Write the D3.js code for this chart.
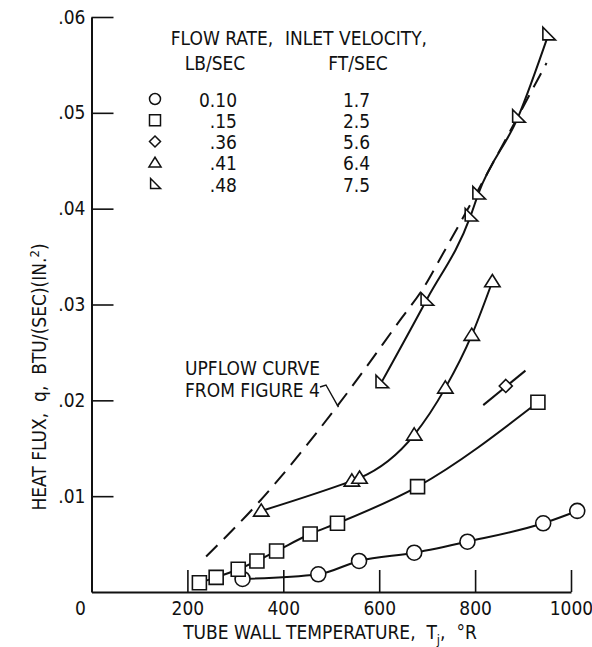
<!DOCTYPE html>
<html>
<head>
<meta charset="utf-8">
<script src="https://cdn.jsdelivr.net/npm/d3@7"></script>
<style>
  body { margin: 0; background: #fff; }
  svg text { font-family: "Liberation Sans Narrow", "DejaVu Sans Condensed", "Arial Narrow", sans-serif; fill: #111; white-space: pre; }
</style>
</head>
<body>
<div id="chart"></div>
<script>
// Heat flux vs tube wall temperature

// [T (deg R), q (BTU/sec in^2)]
const circleData = [[315, 0.00136], [473, 0.00185], [558, 0.00324], [673, 0.0041], [784, 0.00525], [942, 0.00717], [1013, 0.00846]];
const squareData = [[225, 0.00097], [260, 0.00153], [306, 0.00237], [345, 0.00324], [386, 0.00428], [456, 0.00605], [513, 0.00717], [680, 0.0110], [931, 0.0198]];
const diamondData = [[864, 0.0215]];
const diamondLine = [[817, 0.0195], [905, 0.0231]];
const triangleData = [[354, 0.00846], [543, 0.0116], [559, 0.0119], [673, 0.0164], [738, 0.0213], [793, 0.0268], [836, 0.0324]];
const rightTriData = [[605, 0.0219], [699, 0.0305], [791, 0.0393], [807, 0.0416], [890, 0.0496], [953, 0.0582]];
const upflowCurve = [[239, 0.0037], [344, 0.0091], [511, 0.0193], [647, 0.0286], [692, 0.0317], [734, 0.0354], [949, 0.0552]];

const xTicks = [200, 400, 600, 800, 1000];
const yTicks = [0.01, 0.02, 0.03, 0.04, 0.05, 0.06];

const legendShapes = ["circle", "square", "diamond", "triangle", "righttri"];
const legendFlow = ["0.10", ".15", ".36", ".41", ".48"];
const legendVel = ["1.7", "2.5", "5.6", "6.4", "7.5"];

const width = 592, height = 647;

const svg = d3.select("#chart")
  .append("svg")
  .attr("width", width)
  .attr("height", height);

const x = d3.scaleLinear().domain([0, 1000]).range([91.5, 571]);
const y = d3.scaleLinear().domain([0, 0.06]).range([592, 17]);

const FS = 19;

// marker paths centred on 0,0
function shapePath(type, s) {
  const h = s / 2;
  if (type === "circle") return d3.arc()({ innerRadius: 0, outerRadius: h, startAngle: 0, endAngle: 2 * Math.PI });
  if (type === "square") return `M${-h},${-h}H${h}V${h}H${-h}Z`;
  if (type === "diamond") return `M0,${-h}L${h},0L0,${h}L${-h},0Z`;
  if (type === "triangle") return `M0,${-h * 1.0}L${h * 1.1},${h * 0.75}L${-h * 1.1},${h * 0.75}Z`;
  return `M${-h * 0.8},${-h}L${-h * 0.8},${h * 0.8}L${h * 1.0},${h * 0.8}Z`;
}

// axes
const yAxis = svg.append("g")
  .attr("transform", `translate(${x(0)},0)`)
  .call(d3.axisLeft(y).tickValues(yTicks).tickSize(-22).tickSizeOuter(0).tickPadding(6)
    .tickFormat(d => d3.format(".2f")(d).replace("0.", ".")));

const xAxis = svg.append("g")
  .attr("transform", `translate(0,${y(0)})`)
  .call(d3.axisBottom(x).tickValues(xTicks).tickSize(-22).tickSizeOuter(0).tickPadding(10)
    .tickFormat(d3.format("d")));

[xAxis, yAxis].forEach(g => {
  g.select(".domain").attr("stroke", "#111").attr("stroke-width", 2);
  g.selectAll(".tick line").attr("stroke", "#111").attr("stroke-width", 1.6);
  g.selectAll(".tick text").attr("font-size", FS).attr("font-family", null).attr("fill", "#111");
});

svg.append("text")
  .attr("x", x(0) - 11)
  .attr("y", y(0) + 10)
  .attr("dy", "0.71em")
  .attr("text-anchor", "middle")
  .attr("font-size", FS)
  .text("0");

// axis titles
const xt = svg.append("text")
  .attr("x", 330)
  .attr("y", 639)
  .attr("text-anchor", "middle")
  .attr("font-size", FS);
xt.append("tspan").text("TUBE WALL TEMPERATURE,  T");
xt.append("tspan").attr("font-size", 13).attr("dy", 5).text("j");
xt.append("tspan").attr("dy", -5).text(",  °R");

const yt = svg.append("text")
  .attr("transform", "translate(46,377) rotate(-90)")
  .attr("text-anchor", "middle")
  .attr("font-size", FS);
yt.append("tspan").text("HEAT FLUX,  q,  BTU/(SEC)(IN.");
yt.append("tspan").attr("font-size", 13).attr("dy", -7).text("2");
yt.append("tspan").attr("dy", 7).text(")");

// curves
const smooth = d3.line()
  .x(d => x(d[0]))
  .y(d => y(d[1]))
  .curve(d3.curveMonotoneX);

const plot = svg.append("g");

plot.append("path")
  .datum(upflowCurve)
  .attr("d", smooth)
  .attr("fill", "none")
  .attr("stroke", "#111")
  .attr("stroke-width", 2)
  .attr("stroke-dasharray", "16,9");

[circleData, squareData, diamondLine, triangleData, rightTriData].forEach(s => {
  plot.append("path")
    .datum(s)
    .attr("d", smooth)
    .attr("fill", "none")
    .attr("stroke", "#111")
    .attr("stroke-width", 2);
});

// markers
const series = [
  { data: circleData, type: "circle", size: 15 },
  { data: squareData, type: "square", size: 14 },
  { data: diamondData, type: "diamond", size: 13 },
  { data: triangleData, type: "triangle", size: 14 },
  { data: rightTriData, type: "righttri", size: 14 }
];

series.forEach(s => {
  plot.selectAll(null)
    .data(s.data)
    .enter().append("path")
    .attr("transform", d => `translate(${x(d[0])},${y(d[1])})`)
    .attr("d", shapePath(s.type, s.size))
    .attr("fill", "#fff")
    .attr("stroke", "#111")
    .attr("stroke-width", 1.6);
});

// upflow annotation
svg.append("text").attr("x", 185).attr("y", 375).attr("font-size", FS).text("UPFLOW CURVE");
svg.append("text").attr("x", 185).attr("y", 397).attr("font-size", FS).text("FROM FIGURE 4");
svg.append("path")
  .attr("d", d3.line()([[320, 387], [326, 385], [x(515), y(0.0193)]]))
  .attr("fill", "none")
  .attr("stroke", "#111")
  .attr("stroke-width", 1.4);

// legend
const lg = svg.append("g");
lg.append("text").attr("x", 222).attr("y", 45).attr("text-anchor", "middle").attr("font-size", FS).text("FLOW RATE,");
lg.append("text").attr("x", 215).attr("y", 70).attr("text-anchor", "middle").attr("font-size", FS).text("LB/SEC");
lg.append("text").attr("x", 356).attr("y", 45).attr("text-anchor", "middle").attr("font-size", FS).text("INLET VELOCITY,");
lg.append("text").attr("x", 358).attr("y", 70).attr("text-anchor", "middle").attr("font-size", FS).text("FT/SEC");

const rowY = d3.scaleLinear().domain([0, 4]).range([100, 185]);

lg.selectAll(".sym")
  .data(legendShapes)
  .enter().append("path")
  .attr("transform", (d, i) => `translate(155,${rowY(i) - 1})`)
  .attr("d", d => shapePath(d, 11))
  .attr("fill", "#fff")
  .attr("stroke", "#111")
  .attr("stroke-width", 1.5);

lg.selectAll(".flow")
  .data(legendFlow)
  .enter().append("text")
  .attr("x", 237)
  .attr("y", (d, i) => rowY(i))
  .attr("dy", "0.35em")
  .attr("text-anchor", "end")
  .attr("font-size", FS)
  .text(d => d);

lg.selectAll(".vel")
  .data(legendVel)
  .enter().append("text")
  .attr("x", 343)
  .attr("y", (d, i) => rowY(i))
  .attr("dy", "0.35em")
  .attr("font-size", FS)
  .text(d => d);
</script>
</body>
</html>
